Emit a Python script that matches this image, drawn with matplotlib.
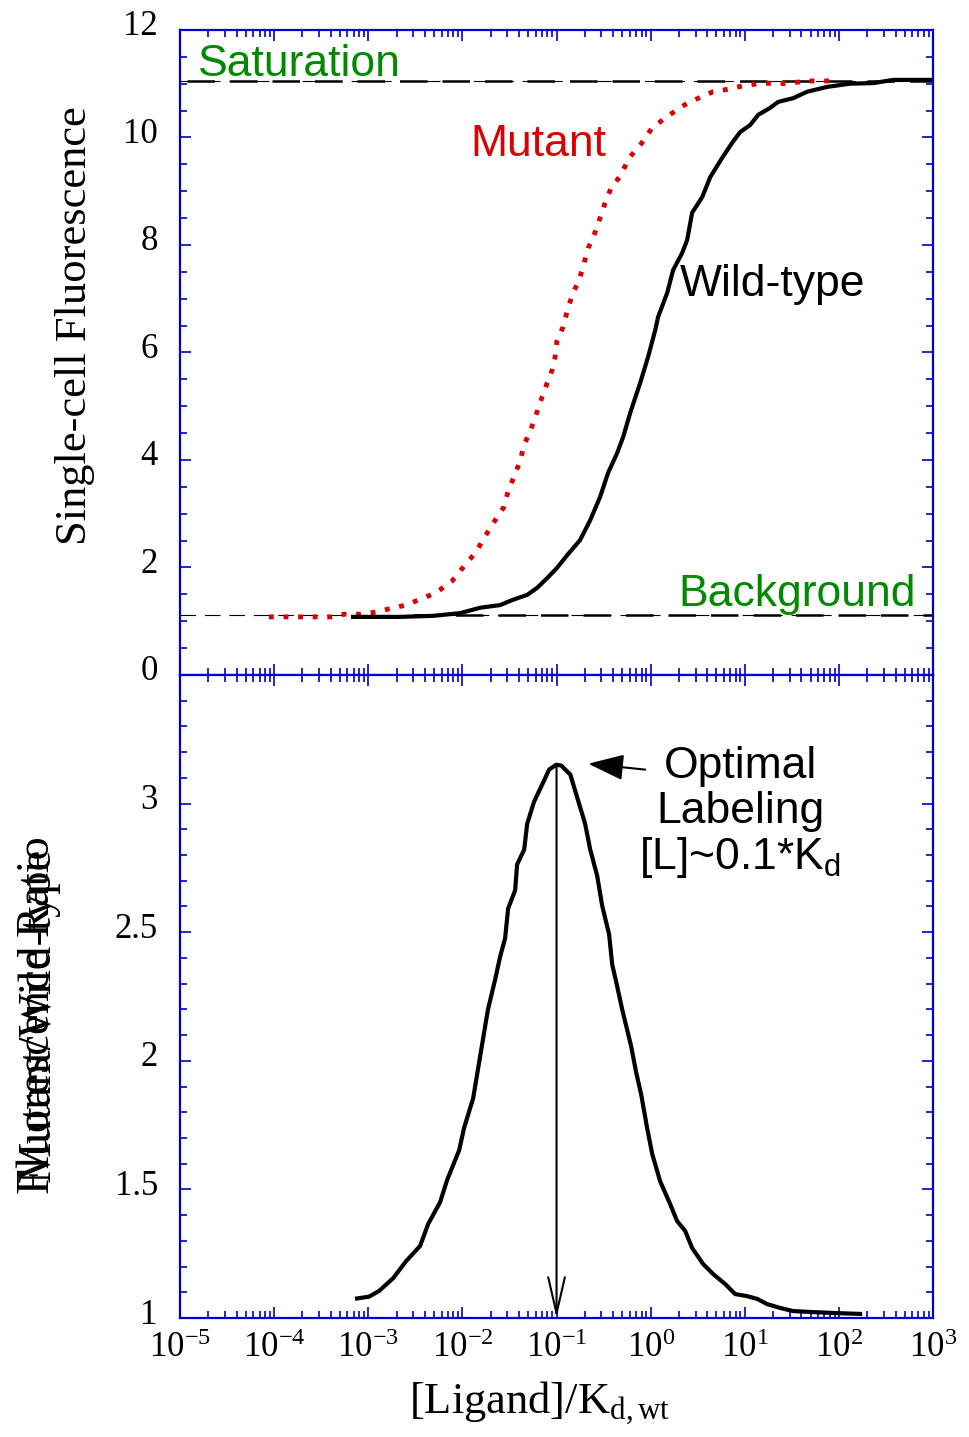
import numpy as np
import matplotlib
matplotlib.use("Agg")
import matplotlib.pyplot as plt
import matplotlib.transforms as mtransforms
from matplotlib.ticker import LogLocator, MultipleLocator, NullFormatter

plt.rcParams['font.family'] = ['Liberation Serif', 'DejaVu Serif']
plt.rcParams['mathtext.fontset'] = 'custom'
plt.rcParams['mathtext.rm'] = 'Liberation Serif'
plt.rcParams['mathtext.it'] = 'Liberation Serif:italic'
plt.rcParams['mathtext.sf'] = 'Liberation Sans'
plt.rcParams['mathtext.default'] = 'regular'
plt.rcParams['axes.unicode_minus'] = False

# ---- data ----
# wild-type response (top panel, solid black)
wt_x = [6.9e-4, 2.18e-3, 4.89e-3, 9.46e-3, 0.0154, 0.0252, 0.0346, 0.0488, 0.0622,
        0.0794, 0.101, 0.130, 0.178, 0.228, 0.290, 0.353, 0.441, 0.511, 0.605, 0.773,
        0.940, 1.12, 1.20, 1.50, 1.73, 2.16, 2.44, 2.76, 3.53, 4.29, 5.75, 7.35, 8.93,
        11.4, 13.9, 18.6, 22.6, 32.7, 46.0, 75.2, 132, 231, 378, 1000]
wt_y = [1.08, 1.08, 1.10, 1.15, 1.25, 1.30, 1.40, 1.49, 1.62, 1.80, 1.99, 2.23, 2.51,
        2.88, 3.31, 3.76, 4.13, 4.43, 4.87, 5.43, 5.92, 6.42, 6.66, 7.11, 7.53, 7.85,
        8.09, 8.60, 8.89, 9.26, 9.62, 9.90, 10.10, 10.23, 10.42, 10.55, 10.66, 10.73,
        10.85, 10.94, 11.00, 11.01, 11.07, 11.07]

# mutant response (top panel, red dotted)
mut_x = [8.8e-5, 1.31e-4, 1.84e-4, 2.72e-4, 4.03e-4, 5.53e-4, 8.2e-4, 1.21e-3, 1.66e-3,
         2.52e-3, 3.82e-3, 5.25e-3, 7.78e-3, 0.0107, 0.0140, 0.0170, 0.0223, 0.0277,
         0.0306, 0.0363, 0.0410, 0.0453, 0.0537, 0.0607, 0.0686, 0.0794, 0.0897,
         0.0966, 0.101, 0.117, 0.133, 0.150, 0.174, 0.196, 0.217, 0.251, 0.290, 0.328,
         0.380, 0.474, 0.592, 0.792, 1.04, 1.53, 2.27, 3.12, 4.61, 6.82, 9.62, 13.9,
         20.0, 28.9, 43.9, 86.9]
mut_y = [1.08, 1.08, 1.08, 1.08, 1.08, 1.13, 1.13, 1.17, 1.23, 1.30, 1.43, 1.53, 1.75,
         2.05, 2.29, 2.55, 2.88, 3.13, 3.42, 3.74, 3.98, 4.28, 4.58, 4.84, 5.12, 5.43,
         5.67, 5.92, 6.21, 6.47, 6.84, 7.11, 7.35, 7.66, 7.94, 8.19, 8.50, 8.78, 9.06,
         9.28, 9.62, 9.88, 10.18, 10.40, 10.60, 10.72, 10.85, 10.90, 10.96, 11.00,
         11.01, 11.00, 11.05, 11.05]

saturation_level = 11.05
background_level = 1.107

# mutant / wild-type ratio (bottom panel)
ratio_x = [7.6e-4, 1.02e-3, 1.30e-3, 1.84e-3, 2.52e-3, 3.55e-3, 4.32e-3, 5.79e-3,
           6.87e-3, 9.23e-3, 0.0104, 0.0130, 0.0147, 0.0166, 0.0187, 0.0223, 0.0252,
           0.0284, 0.0306, 0.0363, 0.0381, 0.0453, 0.0488, 0.0578, 0.0721, 0.0834,
           0.0991, 0.112, 0.140, 0.166, 0.201, 0.228, 0.270, 0.305, 0.362, 0.390,
           0.441, 0.498, 0.621, 0.701, 0.792, 0.918, 1.04, 1.26, 1.61, 1.91, 2.33,
           2.76, 3.61, 4.61, 6.19, 7.91, 10.6, 13.6, 17.3, 23.8, 32.7, 53.3, 95.9, 168]
ratio_y = [1.076, 1.083, 1.105, 1.155, 1.221, 1.280, 1.365, 1.450, 1.536, 1.652, 1.738,
           1.854, 1.971, 2.087, 2.200, 2.317, 2.406, 2.476, 2.592, 2.662, 2.763, 2.821,
           2.922, 3.008, 3.082, 3.132, 3.151, 3.148, 3.113, 3.023, 2.922, 2.821, 2.720,
           2.604, 2.491, 2.375, 2.289, 2.200, 2.056, 1.955, 1.870, 1.738, 1.637, 1.532,
           1.443, 1.377, 1.338, 1.272, 1.210, 1.171, 1.132, 1.093, 1.085, 1.074, 1.054,
           1.039, 1.027, 1.023, 1.019, 1.016]

optimal_x = 0.1
optimal_y = 3.15

blue = '#0000cc'
green = '#008a00'
red = '#dd0000'

fig = plt.figure(figsize=(9.7, 14.37), dpi=100)
ax1 = fig.add_axes([0.1856, 0.5303, 0.7763, 0.4489])
ax2 = fig.add_axes([0.1856, 0.0828, 0.7763, 0.4475])


def style_axis(ax):
    ax.set_xscale('log')
    ax.set_xlim(1e-5, 1e3)
    for sp in ax.spines.values():
        sp.set_color(blue)
        sp.set_linewidth(1.6)
    ax.xaxis.set_major_locator(LogLocator(base=10, numticks=20))
    ax.xaxis.set_minor_locator(LogLocator(base=10, subs=np.arange(2, 10), numticks=20))
    ax.xaxis.set_minor_formatter(NullFormatter())
    ax.tick_params(which='both', direction='in', top=True, right=True,
                   color=blue, width=1.2, labelsize=25, labelcolor='black')
    ax.tick_params(which='major', length=8)
    ax.tick_params(which='minor', length=5)
    ax.tick_params(axis='y', pad=16)
    ax.tick_params(axis='x', pad=10)


def lift_ylabels(ax):
    # labels in the original sit a little above their ticks
    shift = mtransforms.ScaledTranslation(0, 7 / 100, fig.dpi_scale_trans)
    for lab in ax.get_yticklabels():
        lab.set_transform(lab.get_transform() + shift)


style_axis(ax1)
style_axis(ax2)

# top panel
ax1.plot([1e-5, 1e3], [saturation_level] * 2, color='black', lw=0.8, ls=(0, (14, 8)))
ax1.plot([1.2e-5, 1e3], [saturation_level] * 2, color='black', lw=1.8, ls=(0, (11, 6)))
ax1.plot([1e-5, 1e3], [background_level] * 2, color='black', lw=0.8, ls=(0, (14, 8)))
ax1.plot([3e-3, 1e3], [background_level] * 2, color='black', lw=1.8, ls=(0, (11, 6)))
ax1.plot(mut_x, mut_y, color=red, lw=3.5, ls=(0, (1, 2)), solid_capstyle='butt')
ax1.plot(wt_x, wt_y, color='black', lw=3.0)
ax1.set_ylim(0, 12)
ax1.yaxis.set_major_locator(MultipleLocator(2))
ax1.yaxis.set_minor_locator(MultipleLocator(0.5))
ax1.tick_params(axis='x', labelbottom=False)
ax1.set_ylabel('Single-cell Fluorescence', fontsize=32)
ax1.yaxis.set_label_coords(-0.113, 0.541)

sans = ['Liberation Sans', 'DejaVu Sans']
ax1.text(1.55e-5, 11.35, 'Saturation', color=green, fontsize=32, family=sans, va='center')
ax1.text(0.0121, 9.86, 'Mutant', color=red, fontsize=32, family=sans, va='center')
ax1.text(2.06, 7.26, 'Wild-type', color='black', fontsize=32, family=sans, va='center')
ax1.text(1.96, 1.49, 'Background', color=green, fontsize=32, family=sans, va='center')

# bottom panel
ax2.plot(ratio_x, ratio_y, color='black', lw=3.0)
ax2.set_ylim(1, 3.5)
ax2.set_yticks([1, 1.5, 2, 2.5, 3])
ax2.set_yticklabels(['1', '1.5', '2', '2.5', '3'])
ax2.yaxis.set_minor_locator(MultipleLocator(0.1))
ax2.annotate('', xy=(optimal_x, 1.0), xytext=(optimal_x, optimal_y),
             arrowprops=dict(arrowstyle='->,head_length=1.3,head_width=0.3',
                             lw=1.5, color='black', mutation_scale=20,
                             shrinkA=0, shrinkB=0))
ax2.annotate('', xy=(0.217, 3.155), xytext=(0.874, 3.132),
             arrowprops=dict(arrowstyle='-|>,head_length=1.1,head_width=0.4',
                             lw=1.5, color='black', mutation_scale=20,
                             shrinkA=0, shrinkB=0))
ax2.text(8.93, 3.144, 'Optimal', fontsize=32, family=sans, ha='center', va='center')
ax2.text(8.93, 2.969, 'Labeling', fontsize=32, family=sans, ha='center', va='center')
ax2.text(8.93, 2.790, r'[L]~0.1*K$_\mathsf{d}$', fontsize=32, family=sans,
         ha='center', va='center')
ax2.set_xlabel(r'[Ligand]/K$_\mathrm{d,wt}$', fontsize=32)
ax2.xaxis.set_label_coords((540 - 180) / 753, -(1380 - 1318) / 643)

lift_ylabels(ax1)
lift_ylabels(ax2)

# overlapping two-line y label, as in the original
fig.text(38 / 970, 1 - 1015 / 1437, 'Fluorescence Ratio', rotation=90, fontsize=33.5,
         ha='center', va='center')
fig.text(38 / 970, 1 - 1015 / 1437, 'Mutant/Wild-type', rotation=90, fontsize=33.5,
         ha='center', va='center')

fig.savefig('out.png', dpi=100)
